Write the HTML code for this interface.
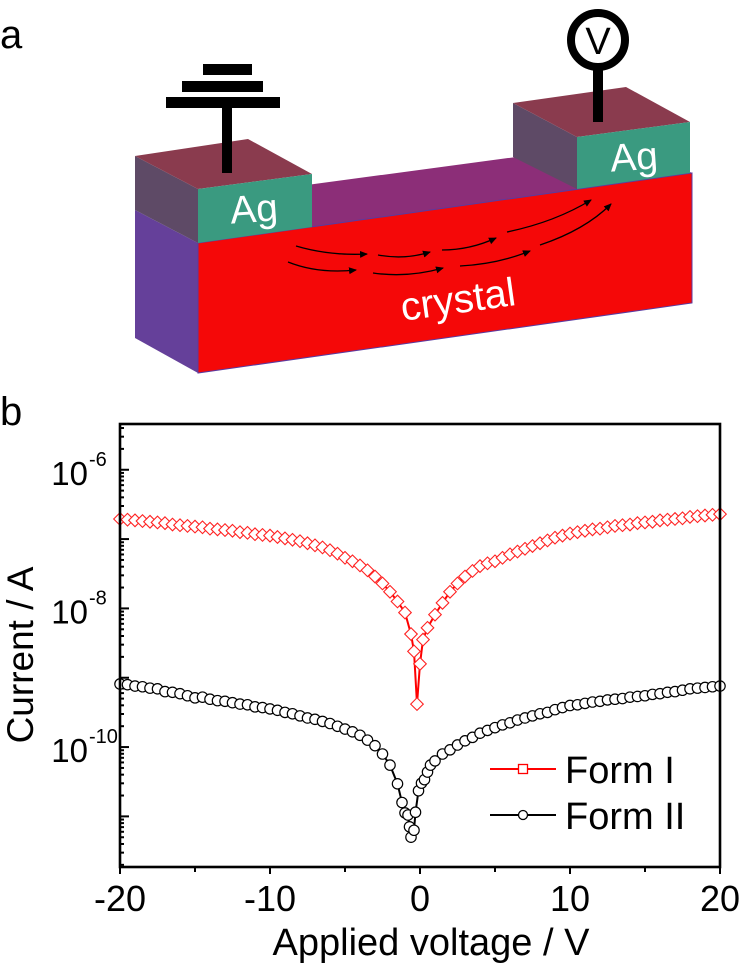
<!DOCTYPE html>
<html><head><meta charset="utf-8"><style>
html,body{margin:0;padding:0;background:#fff;}
svg{display:block;font-family:"Liberation Sans",Arial,sans-serif;}
</style></head><body>
<svg id="fig" width="739" height="970" viewBox="0 0 739 970">
  <text x="0" y="48" font-size="40">a</text>
  <g>
    <polygon points="135,208 628,142 692,173 198,243" fill="#8c2e78"/>
    <polygon points="135,210 198,243 198,373 135,338" fill="#65409a"/>
    <polygon points="198,243 692,173 692,303 198,373" fill="#f50808" stroke="#5a3aa0" stroke-width="1"/>
    <polygon points="135,156 198,189 198,243 135,210" fill="#5e4a66"/>
    <polygon points="135,156 248,139 312,174 198,189" fill="#8a3b4e"/>
    <polygon points="198,189 312,174 312,227 198,243" fill="#3a9a80"/>
    <text x="254" y="222" font-size="39" fill="#fff" text-anchor="middle" transform="rotate(-4 254 210)">Ag</text>
    <polygon points="513,103 577,137 577,189 513,157" fill="#5e4a66"/>
    <polygon points="513,103 626,87 690,122 577,137" fill="#8a3b4e"/>
    <polygon points="577,137 690,122 690,173 577,189" fill="#3a9a80"/>
    <text x="634" y="170" font-size="39" fill="#fff" text-anchor="middle" transform="rotate(-4 634 158)">Ag</text>
    <g fill="#000">
      <rect x="203" y="64" width="49" height="11"/>
      <rect x="182" y="81" width="81" height="11"/>
      <rect x="166" y="97" width="114" height="11"/>
      <rect x="222" y="107" width="10" height="66"/>
    </g>
    <g>
      <rect x="593" y="68" width="10" height="54" fill="#000"/>
      <circle cx="598" cy="40" r="27" fill="#fff" stroke="#000" stroke-width="8"/>
      <text x="598" y="54" font-size="38" text-anchor="middle">V</text>
    </g>
    <defs><marker id="ah" markerWidth="8" markerHeight="8" refX="7" refY="4" orient="auto" markerUnits="userSpaceOnUse"><path d="M0,0.5 L8,4 L0,7.5 z" fill="#000"/></marker></defs>
    <g fill="none" stroke="#000" stroke-width="1.3" marker-end="url(#ah)">
      <path d="M296,246 Q330,256 367,254"/>
      <path d="M378,255 Q405,260 430,252"/>
      <path d="M442,250 Q470,250 496,238"/>
      <path d="M507,232 Q555,222 591,200"/>
      <path d="M288,262 Q318,274 356,270"/>
      <path d="M373,273 Q408,278 443,268"/>
      <path d="M460,266 Q498,264 530,251"/>
      <path d="M540,245 Q585,230 611,204"/>
    </g>
    <text x="458" y="313" font-size="40" fill="#fff" text-anchor="middle" transform="rotate(-8 458 300)">crystal</text>
  </g>

  <text x="0" y="425" font-size="40">b</text>
  <g id="chart"></g>
</svg>
<script>
const voltageI = [-20,-19.5,-19,-18.5,-18,-17.5,-17,-16.5,-16,-15.5,-15,-14.5,-14,-13.5,-13,-12.5,-12,-11.5,-11,-10.5,-10,-9.5,-9,-8.5,-8,-7.5,-7,-6.5,-6,-5.5,-5,-4.5,-4,-3.5,-3,-2.5,-2,-1.5,-1,-0.6,-0.4,-0.2,0,0.2,0.5,1,1.5,2,2.5,3,3.5,4,4.5,5,5.5,6,6.5,7,7.5,8,8.5,9,9.5,10,10.5,11,11.5,12,12.5,13,13.5,14,14.5,15,15.5,16,16.5,17,17.5,18,18.5,19,19.5,20];
const formILogCurrent = [-6.71,-6.72,-6.73,-6.74,-6.75,-6.76,-6.77,-6.79,-6.80,-6.81,-6.82,-6.83,-6.85,-6.86,-6.87,-6.88,-6.90,-6.91,-6.93,-6.94,-6.95,-6.97,-6.99,-7.01,-7.03,-7.06,-7.09,-7.12,-7.16,-7.21,-7.27,-7.32,-7.38,-7.45,-7.54,-7.64,-7.76,-7.90,-8.06,-8.37,-8.62,-9.38,-8.80,-8.45,-8.28,-8.09,-7.92,-7.76,-7.64,-7.54,-7.46,-7.39,-7.35,-7.32,-7.27,-7.22,-7.18,-7.14,-7.10,-7.06,-7.02,-6.98,-6.95,-6.92,-6.90,-6.88,-6.86,-6.85,-6.83,-6.81,-6.80,-6.79,-6.77,-6.76,-6.75,-6.73,-6.72,-6.71,-6.70,-6.68,-6.67,-6.66,-6.65,-6.64];
const voltageII = [-20,-19.5,-19,-18.5,-18,-17.5,-17,-16.5,-16,-15.5,-15,-14.5,-14,-13.5,-13,-12.5,-12,-11.5,-11,-10.5,-10,-9.5,-9,-8.5,-8,-7.5,-7,-6.5,-6,-5.5,-5,-4.5,-4,-3.5,-3,-2.5,-2,-1.5,-1.2,-1,-0.8,-0.7,-0.6,-0.4,-0.3,-0.1,0.1,0.3,0.5,0.7,1,1.5,2,2.5,3,3.5,4,4.5,5,5.5,6,6.5,7,7.5,8,8.5,9,9.5,10,10.5,11,11.5,12,12.5,13,13.5,14,14.5,15,15.5,16,16.5,17,17.5,18,18.5,19,19.5,20];
const formIILogCurrent = [-9.09,-9.10,-9.12,-9.13,-9.15,-9.16,-9.20,-9.21,-9.23,-9.26,-9.29,-9.28,-9.31,-9.33,-9.34,-9.36,-9.38,-9.39,-9.42,-9.43,-9.45,-9.47,-9.50,-9.52,-9.55,-9.58,-9.60,-9.63,-9.66,-9.70,-9.74,-9.78,-9.83,-9.90,-9.98,-10.10,-10.26,-10.53,-10.80,-10.95,-10.98,-11.15,-11.30,-11.20,-10.94,-10.63,-10.52,-10.47,-10.36,-10.26,-10.20,-10.10,-10.04,-9.97,-9.91,-9.86,-9.80,-9.76,-9.72,-9.68,-9.65,-9.61,-9.58,-9.55,-9.52,-9.50,-9.46,-9.43,-9.40,-9.39,-9.37,-9.35,-9.34,-9.32,-9.31,-9.30,-9.28,-9.27,-9.26,-9.24,-9.23,-9.21,-9.20,-9.18,-9.16,-9.15,-9.14,-9.13,-9.12];
const xTickValues = [-20,-10,0,10,20];
const xTickLabels = ["-20","-10","0","10","20"];
const xMinorTicks = [-15,-5,5,15];
const yTickExponents = [-6,-8,-10];
const yTickLabels = ["-6","-8","-10"];
const yDecades = [-6,-7,-8,-9,-10,-11,-12];

const L=120,R=720,T=424,B=867;
const xMin=-20,xMax=20, yTop=-5.34, yBot=-11.73;
function xs(v){return L+(v-xMin)/(xMax-xMin)*(R-L);}
function ys(lg){return T+(yTop-lg)/(yTop-yBot)*(B-T);}

const NS="http://www.w3.org/2000/svg";
const chart=document.getElementById('chart');
function mk(tag,attrs,parent){const e=document.createElementNS(NS,tag);for(const k in attrs)e.setAttribute(k,attrs[k]);(parent||chart).appendChild(e);return e;}

const yt=mk('g',{stroke:'#000','stroke-width':2});


yDecades.forEach(d=>{
  for(let m=1;m<10;m++){
    const lg=d+Math.log10(m);
    if(lg>yTop||lg<yBot)continue;
    const y=ys(lg);
    const len = m===1?9:4;
    mk('line',{x1:L,x2:L+len,y1:y,y2:y},yt);
  }
});
const xt=mk('g',{stroke:'#000','stroke-width':2});


xTickValues.forEach(v=>mk('line',{x1:xs(v),x2:xs(v),y1:B,y2:B+7},xt));
xMinorTicks.forEach(v=>mk('line',{x1:xs(v),x2:xs(v),y1:B,y2:B+5},xt));

xTickValues.forEach((v,i)=>{
  const t=mk('text',{x:xs(v),y:911,'font-size':36,'text-anchor':'middle'});
  t.textContent=xTickLabels[i];
  
  
});
yTickExponents.forEach((e,i)=>{
  const y=ys(e);
  const t=mk('text',{x:88,y:y+15,'font-size':33,'text-anchor':'end'});
  t.textContent='10';
  
  
  const s=mk('text',{x:89,y:y-4,'font-size':20});
  s.textContent=yTickLabels[i];
  
  
});

const g2=mk('g',{});


mk('polyline',{points:voltageII.map((v,i)=>xs(v)+','+ys(formIILogCurrent[i])).join(' '),fill:'none',stroke:'#000','stroke-width':2},g2);
voltageII.forEach((v,i)=>{
  const c=mk('circle',{cx:xs(v),cy:ys(formIILogCurrent[i]),r:5.2,fill:'#fff',stroke:'#000','stroke-width':1.2},g2);
  
  
});
const g1=mk('g',{});


mk('polyline',{points:voltageI.map((v,i)=>xs(v)+','+ys(formILogCurrent[i])).join(' '),fill:'none',stroke:'#f00','stroke-width':2},g1);
voltageI.forEach((v,i)=>{
  const x=xs(v),y=ys(formILogCurrent[i]),d=6.3;
  const p=mk('polygon',{points:`${x},${y-d} ${x+d},${y} ${x},${y+d} ${x-d},${y}`,fill:'#fff',stroke:'#f22','stroke-width':1.1},g1);
  
  
});

const fr=mk('rect',{x:L,y:T,width:R-L,height:B-T,fill:'none',stroke:'#000','stroke-width':2.6});



const lg=mk('g',{});


const e1=mk('g',{},lg);


mk('line',{x1:490,x2:556,y1:769,y2:769,stroke:'#f00','stroke-width':2},e1);
mk('rect',{x:518.5,y:764.5,width:9,height:9,fill:'#fff',stroke:'#f00','stroke-width':1.3},e1);
const t1=mk('text',{x:565,y:783,'font-size':38},e1);t1.textContent='Form I';
const e2=mk('g',{},lg);


mk('line',{x1:490,x2:556,y1:815,y2:815,stroke:'#000','stroke-width':2},e2);
mk('circle',{cx:523,cy:815,r:4.5,fill:'#fff',stroke:'#000','stroke-width':1.3},e2);
const t2=mk('text',{x:565,y:829,'font-size':38},e2);t2.textContent='Form II';

const xtit=mk('text',{x:431,y:955,'font-size':38,'text-anchor':'middle'});
xtit.textContent='Applied voltage / V';


const ytit=mk('text',{x:0,y:0,'font-size':37,'text-anchor':'middle',transform:'translate(33,655) rotate(-90)'});
ytit.textContent='Current / A';


</script>
</body></html>
